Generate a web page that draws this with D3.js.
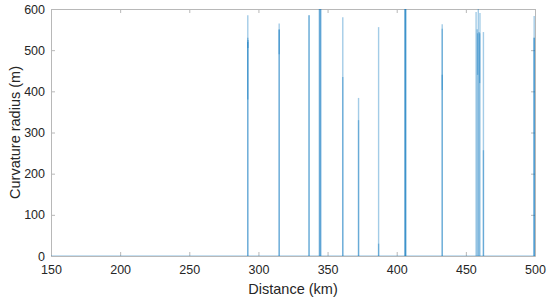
<!DOCTYPE html>
<html>
<head>
<meta charset="utf-8">
<script src="https://cdn.jsdelivr.net/npm/d3@7/dist/d3.min.js"></script>
<style>
  html, body { margin: 0; padding: 0; background: #fff; }
  svg { display: block; font-family: "Liberation Sans", Arial, Helvetica, sans-serif; }
</style>
</head>
<body>
<svg id="chart" width="550" height="299"></svg>
<script>
// ---- data ----
const xTicks = [150, 200, 250, 300, 350, 400, 450, 500];
const yTicks = [0, 100, 200, 300, 400, 500, 600];
const xDomain = [150, 500];
const yDomain = [0, 600];

// baseline of the curvature-radius series (straight sections, radius 0)
const baseDistance = [150, 500];
const baseRadius = [0, 0];

// curve spikes: distance (km), lower and upper radius (m) of each trace
const spikeDistance = [292.3, 292.3, 292.3, 292.5,
  315.0, 315.0, 315.0,
  336.6, 336.6,
  344.0, 344.6, 344.6, 345.2,
  361.0, 361.0,
  372.4, 372.4,
  386.9, 386.9,
  405.8, 406.3, 406.3, 406.6,
  432.9, 432.9, 432.9,
  457.4, 458.2, 459.0, 459.6, 460.2, 458.5, 460.0,
  462.7, 462.7,
  499.4, 499.4, 499.4];
const spikeLow = [0, 0, 380, 505,
  0, 0, 490,
  0, 0,
  0, 0, 0, 0,
  0, 0,
  0, 0,
  0, 0,
  0, 0, 0, 0,
  0, 403, 0,
  0, 0, 0, 0, 0, 440, 420,
  0, 0,
  0, 0, 0];
const spikeHigh = [585, 530, 520, 525,
  565, 550, 550,
  585, 585,
  600, 600, 600, 600,
  580, 435,
  384, 330,
  556, 30,
  600, 600, 600, 600,
  563, 552, 440,
  593, 551, 600, 544, 590, 541, 541,
  544, 257,
  583, 530, 530];

// ---- layout ----
const svg = d3.select("#chart");
const margin = { left: 51, right: 15, top: 9, bottom: 43 };
const W = 550, H = 299;
const x = d3.scaleLinear().domain(xDomain).range([margin.left, W - margin.right]);
const y = d3.scaleLinear().domain(yDomain).range([H - margin.bottom, margin.top]);

const axisColor = "#b8b8b8";
const textColor = "#262626";
const lineColor = "#0072BD";

svg.append("clipPath").attr("id", "plotclip").append("rect")
  .attr("x", x(xDomain[0])).attr("y", y(yDomain[1]))
  .attr("width", x(xDomain[1]) - x(xDomain[0]))
  .attr("height", y(yDomain[0]) - y(yDomain[1]));

// axes (MATLAB-like box with inward ticks)
function styleAxis(g) {
  g.select(".domain").attr("stroke", axisColor);
  g.selectAll(".tick line").attr("stroke", axisColor);
  g.selectAll(".tick text").attr("fill", textColor).attr("font-size", "12.5px");
}
const tickLen = 4;
svg.append("g").attr("transform", `translate(0,${y(0)})`)
  .call(d3.axisBottom(x).tickValues(xTicks).tickSizeInner(-tickLen).tickSizeOuter(0).tickPadding(9).tickFormat(d3.format("d")))
  .call(styleAxis);
svg.append("g").attr("transform", `translate(0,${y(600)})`)
  .call(d3.axisTop(x).tickValues(xTicks).tickSizeInner(-tickLen).tickSizeOuter(0).tickFormat(""))
  .call(styleAxis);
svg.append("g").attr("transform", `translate(${x(150)},0)`)
  .call(d3.axisLeft(y).tickValues(yTicks).tickSizeInner(-tickLen).tickSizeOuter(0).tickPadding(6).tickFormat(d3.format("d")))
  .call(styleAxis);
svg.append("g").attr("transform", `translate(${x(500)},0)`)
  .call(d3.axisRight(y).tickValues(yTicks).tickSizeInner(-tickLen).tickSizeOuter(0).tickFormat(""))
  .call(styleAxis);

// data
const plot = svg.append("g").attr("clip-path", "url(#plotclip)");
const baseLine = d3.line().x(d => x(d[0])).y(d => y(d[1]));
plot.append("path")
  .datum(baseDistance.map((d, i) => [d, baseRadius[i]]))
  .attr("d", baseLine)
  .attr("fill", "none").attr("stroke", lineColor).attr("stroke-opacity", 0.45).attr("stroke-width", 1.2);

const spikes = spikeDistance.map((d, i) => ({ d, lo: spikeLow[i], hi: spikeHigh[i] }));
plot.selectAll("line.spike").data(spikes).enter().append("line")
  .attr("class", "spike")
  .attr("x1", s => x(s.d)).attr("x2", s => x(s.d))
  .attr("y1", s => y(s.lo)).attr("y2", s => y(s.hi))
  .attr("stroke", lineColor).attr("stroke-width", 1.4).attr("stroke-opacity", 0.36);

// axis labels
svg.append("text")
  .attr("x", (x(150) + x(500)) / 2).attr("y", 294)
  .attr("text-anchor", "middle").attr("font-size", "14.5px").attr("fill", textColor)
  .text("Distance (km)");
svg.append("text")
  .attr("transform", `translate(20,${(y(0) + y(600)) / 2}) rotate(-90)`)
  .attr("text-anchor", "middle").attr("font-size", "14.5px").attr("fill", textColor)
  .text("Curvature radius (m)");
</script>
</body>
</html>
